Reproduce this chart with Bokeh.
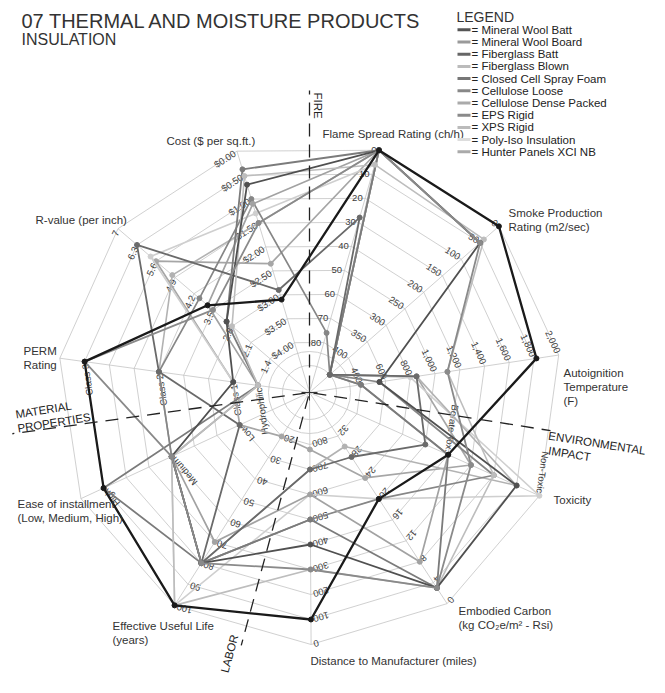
import math
from bokeh.plotting import figure
from bokeh.models import Range1d
from bokeh.embed import file_html
from bokeh.resources import INLINE
from bokeh.core.properties import value

FONT = value("Liberation Sans")

# ---------------- data ----------------
series_names = ["Mineral Wool Batt", "Mineral Wool Board", "Fiberglass Batt", "Fiberglass Blown",
                "Closed Cell Spray Foam", "Cellulose Loose", "Cellulose Dense Packed", "EPS Rigid",
                "XPS Rigid", "Poly-Iso Insulation", "Hunter Panels XCI NB"]
flame_spread = [0, 0, 0, 6, 28, 0, 0, 76, 0, 6, 0]
smoke_production = [0, 50, 50, 40, 450, 450, 450, 450, 450, 450, 450]
autoignition = [1820, 1100, 550, 1100, 850, 400, 400, 550, 850, 800, 850]
toxicity = [4, 3, 1, 2, 5, 4, 4, 2, 1, 0, 3]
embodied_carbon = [20, 3, 3, 3, 28, 3, 8, 20, 30, 20, 24]
distance = [100, 300, 400, 300, 700, 500, 600, 500, 700, 600, 780]
useful_life = [100, 80, 80, 100, 80, 80, 70, 80, 80, 100, 20]
ease = ["High", "Medium", "Medium", "Medium", "Low", "High", "Medium", "Medium", "Medium", "Medium", "Low"]
perm = ["Class 3", "Class 3", "Class 1", "Hydrophilic", "Class 2", "Hydrophilic", "Hydrophilic",
        "Class 2", "Class 2", "Class 1", "Class 1"]
r_value = [3.7, 3.5, 3.0, 2.8, 6.3, 3.0, 3.7, 4.0, 5.0, 5.8, 5.6]
cost = [3.10, 1.50, 0.70, 0.52, 2.90, 0.38, 1.10, 1.00, 1.50, 1.30, 2.35]

flame_ticks = ["0", "10", "20", "30", "40", "50", "60", "70", "80"]
smoke_ticks = ["0", "50", "100", "150", "200", "250", "300", "350", "400"]
autoignition_ticks = ["2,000", "1,800", "1,600", "1,400", "1,200", "1,000", "800", "600", "400"]
toxicity_ticks = ["Non-Toxic", "", "", "", "Borate Tox.", "", "", "", ""]
carbon_ticks = ["0", "4", "8", "12", "16", "20", "24", "28", "32"]
distance_ticks = ["0", "100", "200", "300", "400", "500", "600", "700", "800"]
life_ticks = ["100", "90", "80", "70", "60", "50", "40", "30", "20"]
ease_ticks = ["", "High", "", "", "Medium", "", "", "Low", ""]
perm_ticks = ["", "Class 3", "", "", "Class 2", "", "", "Class 1", "Hydrophilic"]
r_ticks = ["7", "6.3", "5.6", "4.9", "4.2", "3.5", "2.8", "2.1", "1.4"]
cost_ticks = ["$0.00", "$0.50", "$1.00", "$1.50", "$2.00", "$2.50", "$3.00", "$3.50", "$4.00"]

# value at the outer ring and change per ring (numeric axes); None = categorical
axis_outer = [0, 0, 2000, 0, 0, 0, 100, None, None, 7, 0]
axis_step = [10, 50, -200, 1, 4, 100, -10, None, None, -0.7, 0.5]

series_colors = ["#1a1a1a", "#8a8a8a", "#505050", "#bdbdbd", "#6a6a6a", "#7b7b7b",
                 "#a2a2a2", "#868686", "#b2b2b2", "#cfcfcf", "#a6a6a6"]
legend_colors = ["#555555", "#9a9a9a", "#666666", "#bbbbbb", "#777777", "#888888",
                 "#aaaaaa", "#8a8a8a", "#bbbbbb", "#dddddd", "#aaaaaa"]
series_widths = [2.3, 1.8, 1.8, 1.6, 1.8, 1.8, 1.7, 1.7, 1.6, 1.6, 1.7]

# ---------------- geometry ----------------
CX, CY = 309, 392           # centre in picture pixels
R_OUT, R_STEP = 252.0, 25.0
N_AX = 11
TH0 = math.radians(74.0)
DTH = 2 * math.pi / N_AX
thetas = [TH0 - k * DTH for k in range(N_AX)]
N_RINGS = 9


def img(xi, yi):
    return xi - CX, CY - yi


def radius(t):
    return R_OUT - R_STEP * t


tick_lists = [flame_ticks, smoke_ticks, autoignition_ticks, toxicity_ticks, carbon_ticks,
              distance_ticks, life_ticks, ease_ticks, perm_ticks, r_ticks, cost_ticks]
columns = [flame_spread, smoke_production, autoignition, toxicity, embodied_carbon,
           distance, useful_life, ease, perm, r_value, cost]


def to_ring(k, v):
    if axis_outer[k] is None:
        return tick_lists[k].index(v)
    return (v - axis_outer[k]) / axis_step[k]


W, H = 649, 677
p = figure(width=W, height=H, output_backend="svg", toolbar_location=None,
           x_range=Range1d(-CX, W - CX), y_range=Range1d(CY - H, CY),
           x_axis_type=None, y_axis_type=None, min_border=0)
p.outline_line_color = None
p.grid.visible = False
p.background_fill_color = "white"

# rings
ring_xs, ring_ys = [], []
for t in range(N_RINGS):
    r = radius(t)
    xs = [r * math.cos(th) for th in thetas]
    ys = [r * math.sin(th) for th in thetas]
    ring_xs.append(xs + xs[:1])
    ring_ys.append(ys + ys[:1])
p.multi_line(ring_xs, ring_ys, line_color="#c4c4c4", line_width=0.8)
# spokes
p.multi_line([[0, R_OUT * math.cos(th)] for th in thetas],
             [[0, R_OUT * math.sin(th)] for th in thetas],
             line_color="#c4c4c4", line_width=0.8)
p.circle(x=[0, 0], y=[0, 0], radius=[27, 41], fill_color=None,
         line_color="#c4c4c4", line_width=0.8)

# tick labels
tx, ty, tt, ta = [], [], [], []
for k, th in enumerate(thetas):
    rot = th - TH0
    for i, lab in enumerate(tick_lists[k]):
        if not lab:
            continue
        r = radius(i)
        tx.append(r * math.cos(th) - 2.5 * math.cos(rot))
        ty.append(r * math.sin(th) - 2.5 * math.sin(rot))
        tt.append(lab)
        ta.append(rot)
p.text(tx, ty, text=tt, angle=ta, text_align="right", text_baseline="middle",
       text_font=FONT, text_font_size="9.5px", text_color="#3c3c3c")

# series
for s in reversed(range(len(series_names))):
    xs, ys = [], []
    for k in range(N_AX):
        r = radius(to_ring(k, columns[k][s]))
        xs.append(r * math.cos(thetas[k]))
        ys.append(r * math.sin(thetas[k]))
    p.line(xs + xs[:1], ys + ys[:1], line_color=series_colors[s],
           line_width=series_widths[s], line_join="round")
    p.scatter(xs, ys, size=5, fill_color=series_colors[s], line_color=series_colors[s])

# section dividers
dividers = [(90.0, 302), (-9.0, 244), (-105.1, 262), (187.9, 300)]
for ang, ln in dividers:
    a = math.radians(ang)
    p.line([4 * math.cos(a), ln * math.cos(a)], [4 * math.sin(a), ln * math.sin(a)],
           line_color="#222222", line_width=1.3, line_dash="13 8")
p.line([-8, 8], [0, 0], line_color="#333333", line_width=1)
p.line([0, 0], [-8, 8], line_color="#333333", line_width=1)

# axis titles
titles = [
    ("Flame Spread Rating (ch/h)", 322, 133),
    ("Smoke Production", 508, 212), ("Rating (m2/sec)", 508, 226),
    ("Autoignition", 563, 372), ("Temperature", 563, 386), ("(F)", 563, 400),
    ("Toxicity", 553, 499),
    ("Embodied Carbon", 458, 610), ("(kg CO\u2082e/m\u00b2 - Rsi)", 458, 624),
    ("Distance to Manufacturer (miles)", 310, 660),
    ("Effective Useful Life", 112, 625), ("(years)", 112, 639),
    ("Ease of installment", 17, 503), ("(Low, Medium, High)", 17, 517),
    ("PERM", 23, 350), ("Rating", 23, 364),
    ("R-value (per inch)", 35, 219),
    ("Cost ($ per sq.ft.)", 166, 140),
]
p.text([img(x, y)[0] for _, x, y in titles], [img(x, y)[1] for _, x, y in titles],
       text=[t for t, _, _ in titles], text_align="left", text_baseline="middle",
       text_font=FONT, text_font_size="11.5px", text_color="#333333")

# section labels
sections = [
    ("FIRE", 317, 92, -90.0),
    ("MATERIAL", 15, 414, 9.0), ("PROPERTIES", 17, 428, 9.0),
    ("ENVIRONMENTAL", 548, 435, -9.0), ("IMPACT", 548, 450, -9.0),
    ("LABOR", 224, 672, 75.0),
]
p.text([img(x, y)[0] for _, x, y, _ in sections], [img(x, y)[1] for _, x, y, _ in sections],
       text=[t for t, _, _, _ in sections], angle=[math.radians(a) for *_, a in sections],
       text_align="left", text_baseline="middle", text_font=FONT, text_font_size="11.5px",
       text_color="#222222")

# title
tx0, ty0 = img(21, 20)
p.text([tx0], [ty0], text=["07 THERMAL AND MOISTURE PRODUCTS"], text_align="left",
       text_baseline="middle", text_font=FONT, text_font_size="20px", text_color="#333333")
tx1, ty1 = img(21, 39)
p.text([tx1], [ty1], text=["INSULATION"], text_align="left", text_baseline="middle",
       text_font=FONT, text_font_size="16px", text_color="#333333")

# legend
lx, ly = img(456, 16)
p.text([lx], [ly], text=["LEGEND"], text_align="left", text_baseline="middle",
       text_font=FONT, text_font_size="14px", text_color="#333333")
leg_y = [29.3 + 12.2 * i for i in range(len(series_names))]
p.multi_line([[img(457, 0)[0], img(470, 0)[0]] for _ in leg_y],
             [[img(0, y)[1], img(0, y)[1]] for y in leg_y],
             line_color=legend_colors, line_width=3)
p.text([img(471, 0)[0]] * len(leg_y), [img(0, y)[1] for y in leg_y],
       text=["= " + n for n in series_names], text_align="left", text_baseline="middle",
       text_font=FONT, text_font_size="11.5px", text_color="#222222")

open("out.html", "w").write(file_html(p, INLINE))
